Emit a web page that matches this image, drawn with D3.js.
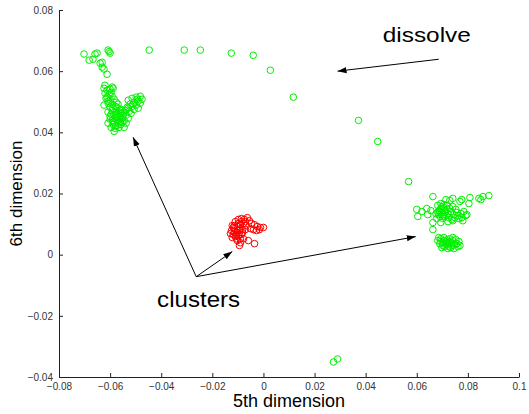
<!DOCTYPE html>
<html>
<head>
<meta charset="utf-8">
<script src="https://cdn.jsdelivr.net/npm/d3@7"></script>
<style>
	body { margin: 0; background: #fff; }
	svg { display: block; font-family: "Liberation Sans", Arial, sans-serif; }
	.tick text { fill: #333; font-size: 10px; }
	.axis path, .axis line { stroke: #222; }
</style>
</head>
<body>
<script>
// values (5th dim, 6th dim)
var xTicks = [-0.08, -0.06, -0.04, -0.02, 0, 0.02, 0.04, 0.06, 0.08, 0.1];
var xTickLabels = ['\u22120.08', '\u22120.06', '\u22120.04', '\u22120.02', '0', '0.02', '0.04', '0.06', '0.08', '0.1'];
var yTicks = [-0.04, -0.02, 0, 0.02, 0.04, 0.06, 0.08];
var yTickLabels = ['\u22120.04', '\u22120.02', '0', '0.02', '0.04', '0.06', '0.08'];

// scattered "dissolve" points
var dissolvePts = [
	[-0.0447, 0.0669], [-0.0310, 0.0669], [-0.0247, 0.0669], [-0.0126, 0.0659],
	[-0.0040, 0.0652], [0.0027, 0.0603], [0.0117, 0.0515], [0.0372, 0.0439],
	[0.0447, 0.0370], [0.0568, 0.0239], [0.0274, -0.0351], [0.0290, -0.0341]
];

// upper-left green cluster
var clusterA = [
	[-0.0702, 0.0656], [-0.0682, 0.0636], [-0.0667, 0.0639], [-0.0659, 0.0656],
	[-0.0651, 0.0659], [-0.0639, 0.0626], [-0.0631, 0.0629], [-0.0631, 0.0613],
	[-0.0624, 0.0607], [-0.0612, 0.0590], [-0.0608, 0.0669], [-0.0600, 0.0659],
	[-0.0604, 0.0664], [-0.0620, 0.0554], [-0.0592, 0.0548],
	[-0.0624, 0.0544], [-0.0612, 0.0538], [-0.0600, 0.0541], [-0.0588, 0.0544],
	[-0.0620, 0.0528], [-0.0604, 0.0525], [-0.0592, 0.0518], [-0.0616, 0.0511],
	[-0.0600, 0.0505], [-0.0584, 0.0508], [-0.0608, 0.0495], [-0.0592, 0.0492],
	[-0.0576, 0.0498], [-0.0624, 0.0489], [-0.0600, 0.0482], [-0.0580, 0.0485],
	[-0.0569, 0.0492], [-0.0612, 0.0515], [-0.0596, 0.0531], [-0.0608, 0.0502],
	[-0.0529, 0.0505], [-0.0514, 0.0511], [-0.0498, 0.0515], [-0.0482, 0.0518],
	[-0.0475, 0.0508], [-0.0490, 0.0502], [-0.0506, 0.0498], [-0.0522, 0.0492],
	[-0.0533, 0.0482], [-0.0514, 0.0485], [-0.0498, 0.0489], [-0.0482, 0.0495],
	[-0.0541, 0.0472], [-0.0525, 0.0469], [-0.0506, 0.0475], [-0.0490, 0.0479],
	[-0.0553, 0.0462], [-0.0537, 0.0456], [-0.0518, 0.0462], [-0.0510, 0.0492],
	[-0.0494, 0.0508], [-0.0529, 0.0479], [-0.0545, 0.0466],
	[-0.0608, 0.0466], [-0.0592, 0.0472], [-0.0576, 0.0469], [-0.0561, 0.0472],
	[-0.0600, 0.0452], [-0.0584, 0.0456], [-0.0569, 0.0452], [-0.0553, 0.0449],
	[-0.0592, 0.0439], [-0.0576, 0.0443], [-0.0561, 0.0436], [-0.0545, 0.0439],
	[-0.0608, 0.0430], [-0.0588, 0.0426], [-0.0573, 0.0423], [-0.0557, 0.0426],
	[-0.0596, 0.0416], [-0.0580, 0.0413], [-0.0565, 0.0416], [-0.0584, 0.0403],
	[-0.0545, 0.0416], [-0.0529, 0.0446], [-0.0537, 0.0430], [-0.0600, 0.0443],
	[-0.0569, 0.0439], [-0.0576, 0.0459], [-0.0561, 0.0462], [-0.0588, 0.0479],
	[-0.0573, 0.0482], [-0.0557, 0.0475], [-0.0584, 0.0446], [-0.0569, 0.0430],
	[-0.0553, 0.0433], [-0.0588, 0.0433], [-0.0576, 0.0449], [-0.0596, 0.0459],
	[-0.0565, 0.0466], [-0.0549, 0.0456], [-0.0580, 0.0420], [-0.0561, 0.0446]
];

// right green cluster
var clusterB = [
	[0.0663, 0.0190], [0.0741, 0.0184], [0.0769, 0.0174], [0.0776, 0.0180],
	[0.0808, 0.0187], [0.0804, 0.0167], [0.0843, 0.0184], [0.0859, 0.0190],
	[0.0882, 0.0193], [0.0851, 0.0180], [0.0714, 0.0180], [0.0729, 0.0177],
	[0.0706, 0.0164],
	[0.0600, 0.0148], [0.0604, 0.0125], [0.0639, 0.0151], [0.0643, 0.0131],
	[0.0655, 0.0144], [0.0663, 0.0105], [0.0663, 0.0082], [0.0675, 0.0134],
	[0.0620, 0.0141], [0.0694, 0.0105],
	[0.0682, 0.0161], [0.0694, 0.0167], [0.0706, 0.0154], [0.0718, 0.0161],
	[0.0729, 0.0151], [0.0741, 0.0157], [0.0753, 0.0148], [0.0686, 0.0144],
	[0.0698, 0.0138], [0.0710, 0.0144], [0.0722, 0.0134], [0.0733, 0.0141],
	[0.0745, 0.0131], [0.0757, 0.0138], [0.0690, 0.0125], [0.0702, 0.0118],
	[0.0714, 0.0128], [0.0725, 0.0121], [0.0737, 0.0115], [0.0749, 0.0121],
	[0.0761, 0.0128], [0.0773, 0.0134], [0.0784, 0.0141], [0.0796, 0.0131],
	[0.0792, 0.0128], [0.0780, 0.0111], [0.0741, 0.0111], [0.0765, 0.0118],
	[0.0722, 0.0108], [0.0776, 0.0121], [0.0686, 0.0131], [0.0678, 0.0118],
	[0.0694, 0.0151], [0.0702, 0.0131], [0.0710, 0.0138], [0.0698, 0.0157],
	[0.0718, 0.0148], [0.0690, 0.0141], [0.0706, 0.0125], [0.0682, 0.0138],
	[0.0682, 0.0046], [0.0694, 0.0052], [0.0706, 0.0056], [0.0718, 0.0049],
	[0.0729, 0.0052], [0.0741, 0.0046], [0.0753, 0.0049], [0.0765, 0.0043],
	[0.0690, 0.0036], [0.0702, 0.0039], [0.0714, 0.0033], [0.0725, 0.0036],
	[0.0737, 0.0030], [0.0749, 0.0033], [0.0761, 0.0026], [0.0698, 0.0023],
	[0.0710, 0.0026], [0.0722, 0.0020], [0.0733, 0.0023], [0.0745, 0.0020],
	[0.0757, 0.0036], [0.0769, 0.0030], [0.0686, 0.0056], [0.0741, 0.0056],
	[0.0694, 0.0043], [0.0706, 0.0046], [0.0718, 0.0039], [0.0729, 0.0043],
	[0.0702, 0.0030], [0.0714, 0.0043], [0.0725, 0.0028], [0.0737, 0.0039]
];

// red cluster
var clusterRed = [
	[-0.0122, 0.0095], [-0.0110, 0.0108], [-0.0098, 0.0115], [-0.0086, 0.0118],
	[-0.0075, 0.0115], [-0.0063, 0.0121], [-0.0055, 0.0111], [-0.0125, 0.0079],
	[-0.0114, 0.0085], [-0.0102, 0.0092], [-0.0090, 0.0098], [-0.0078, 0.0102],
	[-0.0067, 0.0095], [-0.0118, 0.0066], [-0.0106, 0.0072], [-0.0094, 0.0079],
	[-0.0082, 0.0082], [-0.0071, 0.0082], [-0.0122, 0.0056], [-0.0110, 0.0059],
	[-0.0098, 0.0062], [-0.0086, 0.0066], [-0.0102, 0.0046], [-0.0090, 0.0039],
	[-0.0078, 0.0052], [-0.0059, 0.0046], [-0.0035, 0.0036], [-0.0094, 0.0030],
	[-0.0047, 0.0102], [-0.0035, 0.0098], [-0.0024, 0.0092], [-0.0012, 0.0089],
	[0.0000, 0.0089], [-0.0051, 0.0085], [-0.0039, 0.0082], [-0.0027, 0.0079],
	[-0.0016, 0.0082], [-0.0106, 0.0052], [-0.0129, 0.0069],
	[-0.0114, 0.0075], [-0.0102, 0.0079], [-0.0090, 0.0085], [-0.0106, 0.0062],
	[-0.0094, 0.0066], [-0.0082, 0.0072], [-0.0114, 0.0095], [-0.0098, 0.0102],
	[-0.0086, 0.0108], [-0.0071, 0.0108], [-0.0118, 0.0089], [-0.0090, 0.0052]
];

// annotation arrows: [from, to] in data units
var dissolveArrow = [[0.0686, 0.0639], [0.0290, 0.0600]];
var clusterOrigin = [-0.0263, -0.0072];
var clusterTargets = [[-0.0510, 0.0384], [-0.0122, 0.0010], [0.0596, 0.0059]];

var width = 529, height = 414;
var margin = {top: 10, right: 10, bottom: 37, left: 59};

var svg = d3.select('body')
	.append('svg')
	.attr('width', width)
	.attr('height', height);

var x = d3.scaleLinear().domain([-0.08, 0.1]).range([margin.left, width - margin.right]);
var y = d3.scaleLinear().domain([-0.04, 0.08]).range([height - margin.bottom, margin.top]);

svg.append('g')
	.attr('class', 'axis')
	.attr('transform', 'translate(0,' + (height - margin.bottom) + ')')
	.call(d3.axisBottom(x)
		.tickValues(xTicks)
		.tickFormat(function(d, i) { return xTickLabels[i]; })
		.tickSizeInner(-4)
		.tickSizeOuter(0)
		.tickPadding(6));

svg.append('g')
	.attr('class', 'axis')
	.attr('transform', 'translate(' + margin.left + ',0)')
	.call(d3.axisLeft(y)
		.tickValues(yTicks)
		.tickFormat(function(d, i) { return yTickLabels[i]; })
		.tickSizeInner(-4)
		.tickSizeOuter(0)
		.tickPadding(6));

svg.selectAll('.axis').attr('font-family', null);

svg.append('text')
	.attr('x', (x.range()[0] + x.range()[1]) / 2)
	.attr('y', height - 7)
	.attr('text-anchor', 'middle')
	.style('font-size', '18px')
	.text('5th dimension');

svg.append('text')
	.attr('transform', 'translate(22,' + (y.range()[0] + y.range()[1]) / 2 + ') rotate(-90)')
	.attr('text-anchor', 'middle')
	.style('font-size', '17px')
	.text('6th dimension');

function drawPoints(data, color) {
	svg.append('g').selectAll('circle')
		.data(data)
		.enter()
		.append('circle')
		.attr('cx', function(d) { return x(d[0]); })
		.attr('cy', function(d) { return y(d[1]); })
		.attr('r', 3.3)
		.attr('fill', 'none')
		.attr('stroke', color)
		.attr('stroke-width', 1);
}

drawPoints(dissolvePts, '#00f000');
drawPoints(clusterA, '#00f000');
drawPoints(clusterB, '#00f000');
drawPoints(clusterRed, '#ff0000');

svg.append('defs').append('marker')
	.attr('id', 'head')
	.attr('viewBox', '0 0 10 10')
	.attr('refX', 10)
	.attr('refY', 5)
	.attr('markerWidth', 9)
	.attr('markerHeight', 9)
	.attr('markerUnits', 'userSpaceOnUse')
	.attr('orient', 'auto')
	.append('path')
	.attr('d', 'M0,1.5L10,5L0,8.5Z')
	.attr('fill', '#000');

function arrow(from, to) {
	svg.append('line')
		.attr('x1', x(from[0]))
		.attr('y1', y(from[1]))
		.attr('x2', x(to[0]))
		.attr('y2', y(to[1]))
		.attr('stroke', '#000')
		.attr('stroke-width', 1)
		.attr('marker-end', 'url(#head)');
}

arrow(dissolveArrow[0], dissolveArrow[1]);
clusterTargets.forEach(function(t) { arrow(clusterOrigin, t); });

svg.append('text')
	.attr('x', x(0.0467))
	.attr('y', y(0.0695))
	.attr('textLength', 88)
	.attr('lengthAdjust', 'spacingAndGlyphs')
	.style('font-size', '21px')
	.text('dissolve');

svg.append('text')
	.attr('x', x(-0.0416))
	.attr('y', y(-0.0171))
	.attr('textLength', 83)
	.attr('lengthAdjust', 'spacingAndGlyphs')
	.style('font-size', '22px')
	.text('clusters');
</script>
</body>
</html>
